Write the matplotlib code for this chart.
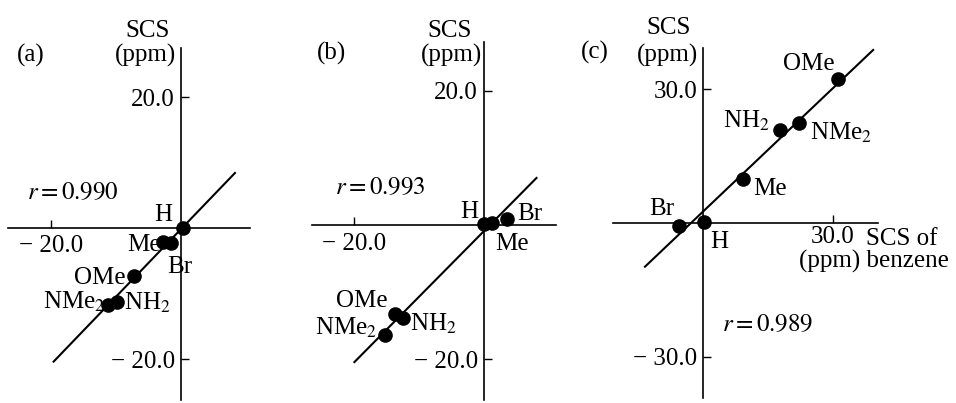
import matplotlib
matplotlib.use('Agg')
import matplotlib.pyplot as plt
from matplotlib.ticker import FuncFormatter

plt.rcParams['font.family'] = 'Liberation Serif'
plt.rcParams['mathtext.fontset'] = 'stix'
FS = 18
W, H = 956, 403

# --- valeurs lues pour chaque substituant (ppm) ---
a_names = ['H', 'Me', 'Br', 'OMe', 'NH$_2$', 'NMe$_2$']
a_x = [0.3, -2.7, -1.6, -7.3, -9.8, -11.2]
a_y = [0.0, -2.2, -2.3, -7.3, -11.3, -11.8]
a_fit_x = [-19.6, 8.3]
a_fit_y = [-20.4, 8.4]
a_r = 0.990
a_xticks = [-20.0]
a_yticks = [20.0, -20.0]

b_names = ['H', 'Me', 'Br', 'OMe', 'NH$_2$', 'NMe$_2$']
b_x = [0.0, 1.2, 3.6, -13.7, -12.5, -15.3]
b_y = [0.2, 0.25, 0.9, -13.3, -13.9, -16.3]
b_fit_x = [-20.0, 8.1]
b_fit_y = [-20.4, 7.0]
b_r = 0.993
b_xticks = [-20.0]
b_yticks = [20.0, -20.0]

c_names = ['H', 'Me', 'Br', 'OMe', 'NH$_2$', 'NMe$_2$']
c_x = [0.2, 9.3, -5.5, 31.1, 17.8, 22.2]
c_y = [0.3, 9.9, -0.7, 32.2, 20.9, 22.5]
c_fit_x = [-13.4, 39.3]
c_fit_y = [-9.8, 38.8]
c_r = 0.989
c_xticks = [30.0]
c_yticks = [30.0, -30.0]

# decalages des etiquettes (pixels : dx, dy, alignement)
a_offsets = {'H': (-20, 7, 'center'), 'Me': (-3, -9, 'right'),
             'Br': (9, -30, 'center'), 'OMe': (-8, -8, 'right'),
             'NH$_2$': (7, -8, 'left'), 'NMe$_2$': (-3, -3, 'right')}
b_offsets = {'H': (-15, 6, 'center'), 'Me': (3, -27, 'left'),
             'Br': (10, -1, 'left'), 'OMe': (-33, 7, 'center'),
             'NH$_2$': (7, -12, 'left'), 'NMe$_2$': (-8, 0, 'right')}
c_offsets = {'H': (15, -26, 'center'), 'Me': (10, -16, 'left'),
             'Br': (-17, 11, 'center'), 'OMe': (-29, 9, 'center'),
             'NH$_2$': (-10, 2, 'right'), 'NMe$_2$': (11, -17, 'left')}


def fmt(v, pos):
    s = f'{v:.1f}'
    return s.replace('-', '\u2212 ')


def ftext(x, y, s, **kw):
    # texte place en pixels de la figure
    fig.text(x / W, 1 - y / H, s, fontsize=FS, **kw)


def panneau(cadre, names, xs, ys, fit_x, fit_y, r, xticks, yticks, offsets, xpad):
    ox, oy, sx, sy, left, right, top, bottom = cadre
    ax = fig.add_axes([left / W, 1 - bottom / H, (right - left) / W, (bottom - top) / H])
    ax.set_xlim((left - ox) / sx, (right - ox) / sx)
    ax.set_ylim((oy - bottom) / sy, (oy - top) / sy)
    ax.patch.set_visible(False)
    for s in ['top', 'right']:
        ax.spines[s].set_visible(False)
    for s in ['left', 'bottom']:
        ax.spines[s].set_position(('data', 0))
        ax.spines[s].set_linewidth(1.2)
    ax.set_xticks(xticks)
    ax.set_yticks(yticks)
    ax.xaxis.set_major_formatter(FuncFormatter(fmt))
    ax.yaxis.set_major_formatter(FuncFormatter(fmt))
    ax.tick_params(direction='in', length=6, width=1, labelsize=FS)
    ax.tick_params(axis='y', pad=4.3)
    ax.tick_params(axis='x', pad=xpad)

    ax.plot(fit_x, fit_y, color='black', lw=1.5, clip_on=False)
    ax.plot(xs, ys, 'o', color='black', ms=9.5, clip_on=False, zorder=3)
    for name, x, y in zip(names, xs, ys):
        dx, dy, ha = offsets[name]
        ax.annotate(name, (x, y), xytext=(dx, dy), textcoords='offset pixels',
                    ha=ha, va='baseline', fontsize=FS)
    return ax


fig = plt.figure(figsize=(W / 100, H / 100), dpi=100)

# (a)
panneau((181, 228, 6.5, 6.55, 8, 250, 48, 400), a_names, a_x, a_y,
        a_fit_x, a_fit_y, a_r, a_xticks, a_yticks, a_offsets, 5)
ftext(31, 55, '(a)', ha='center', va='center')
ftext(148, 31, 'SCS', ha='center', va='center')
ftext(176, 55, '(ppm)', ha='right', va='center')
ftext(73, 193, f'$r = {a_r:.3f}$', ha='center', va='center')

# (b)
panneau((484, 225, 6.48, 6.72, 312, 556, 42, 400), b_names, b_x, b_y,
        b_fit_x, b_fit_y, b_r, b_xticks, b_yticks, b_offsets, 5.5)
ftext(331, 53, '(b)', ha='center', va='center')
ftext(450, 31, 'SCS', ha='center', va='center')
ftext(482, 55, '(ppm)', ha='right', va='center')
ftext(380, 188, f'$r = {b_r:.3f}$', ha='center', va='center')

# (c)
panneau((703, 223, 4.33, 4.46, 613, 878, 48, 398), c_names, c_x, c_y,
        c_fit_x, c_fit_y, c_r, c_xticks, c_yticks, c_offsets, 2.5)
ftext(595, 52, '(c)', ha='center', va='center')
ftext(669, 28, 'SCS', ha='center', va='center')
ftext(698, 55, '(ppm)', ha='right', va='center')
ftext(768, 325, f'$r = {c_r:.3f}$', ha='center', va='center')
ftext(902, 239, 'SCS of', ha='center', va='center')
ftext(874, 261, '(ppm) benzene', ha='center', va='center')

fig.savefig('out.png', dpi=100)
